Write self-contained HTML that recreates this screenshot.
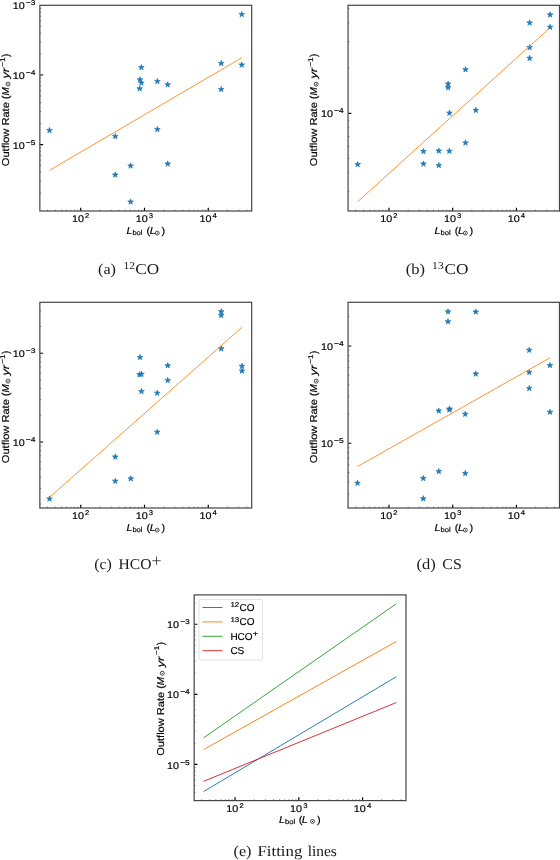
<!DOCTYPE html>
<html><head><meta charset="utf-8"><title>Outflow rate vs bolometric luminosity</title>
<style>
html,body{margin:0;padding:0;background:#fff;}
body{width:560px;height:860px;overflow:hidden;font-family:"Liberation Sans",sans-serif;}
svg{display:block;will-change:transform;}
text{text-rendering:geometricPrecision;}
</style></head><body>
<svg width="560" height="860" viewBox="0 0 560 860">
<rect x="0" y="0" width="560" height="860" fill="#ffffff"/>
<polygon points="49.50,127.40 48.84,129.44 46.69,129.44 48.43,130.70 47.77,132.74 49.50,131.48 51.23,132.74 50.57,130.70 52.31,129.44 50.16,129.44" fill="#1f77b4" stroke="#1f77b4" stroke-width="0.7" stroke-linejoin="miter"/>
<polygon points="115.25,133.40 114.59,135.44 112.44,135.44 114.18,136.70 113.52,138.74 115.25,137.48 116.98,138.74 116.32,136.70 118.06,135.44 115.91,135.44" fill="#1f77b4" stroke="#1f77b4" stroke-width="0.7" stroke-linejoin="miter"/>
<polygon points="115.25,171.90 114.59,173.94 112.44,173.94 114.18,175.20 113.52,177.24 115.25,175.98 116.98,177.24 116.32,175.20 118.06,173.94 115.91,173.94" fill="#1f77b4" stroke="#1f77b4" stroke-width="0.7" stroke-linejoin="miter"/>
<polygon points="130.60,162.90 129.94,164.94 127.79,164.94 129.53,166.20 128.87,168.24 130.60,166.98 132.33,168.24 131.67,166.20 133.41,164.94 131.26,164.94" fill="#1f77b4" stroke="#1f77b4" stroke-width="0.7" stroke-linejoin="miter"/>
<polygon points="130.60,198.90 129.94,200.94 127.79,200.94 129.53,202.20 128.87,204.24 130.60,202.98 132.33,204.24 131.67,202.20 133.41,200.94 131.26,200.94" fill="#1f77b4" stroke="#1f77b4" stroke-width="0.7" stroke-linejoin="miter"/>
<polygon points="139.70,85.70 139.04,87.74 136.89,87.74 138.63,89.00 137.97,91.04 139.70,89.78 141.43,91.04 140.77,89.00 142.51,87.74 140.36,87.74" fill="#1f77b4" stroke="#1f77b4" stroke-width="0.7" stroke-linejoin="miter"/>
<polygon points="140.00,76.70 139.34,78.74 137.19,78.74 138.93,80.00 138.27,82.04 140.00,80.78 141.73,82.04 141.07,80.00 142.81,78.74 140.66,78.74" fill="#1f77b4" stroke="#1f77b4" stroke-width="0.7" stroke-linejoin="miter"/>
<polygon points="141.40,64.50 140.74,66.54 138.59,66.54 140.33,67.80 139.67,69.84 141.40,68.58 143.13,69.84 142.47,67.80 144.21,66.54 142.06,66.54" fill="#1f77b4" stroke="#1f77b4" stroke-width="0.7" stroke-linejoin="miter"/>
<polygon points="141.40,80.00 140.74,82.04 138.59,82.04 140.33,83.30 139.67,85.34 141.40,84.08 143.13,85.34 142.47,83.30 144.21,82.04 142.06,82.04" fill="#1f77b4" stroke="#1f77b4" stroke-width="0.7" stroke-linejoin="miter"/>
<polygon points="157.40,78.40 156.74,80.44 154.59,80.44 156.33,81.70 155.67,83.74 157.40,82.48 159.13,83.74 158.47,81.70 160.21,80.44 158.06,80.44" fill="#1f77b4" stroke="#1f77b4" stroke-width="0.7" stroke-linejoin="miter"/>
<polygon points="157.40,126.40 156.74,128.44 154.59,128.44 156.33,129.70 155.67,131.74 157.40,130.48 159.13,131.74 158.47,129.70 160.21,128.44 158.06,128.44" fill="#1f77b4" stroke="#1f77b4" stroke-width="0.7" stroke-linejoin="miter"/>
<polygon points="167.70,81.70 167.04,83.74 164.89,83.74 166.63,85.00 165.97,87.04 167.70,85.78 169.43,87.04 168.77,85.00 170.51,83.74 168.36,83.74" fill="#1f77b4" stroke="#1f77b4" stroke-width="0.7" stroke-linejoin="miter"/>
<polygon points="167.70,160.90 167.04,162.94 164.89,162.94 166.63,164.20 165.97,166.24 167.70,164.98 169.43,166.24 168.77,164.20 170.51,162.94 168.36,162.94" fill="#1f77b4" stroke="#1f77b4" stroke-width="0.7" stroke-linejoin="miter"/>
<polygon points="221.25,60.40 220.59,62.44 218.44,62.44 220.18,63.70 219.52,65.74 221.25,64.48 222.98,65.74 222.32,63.70 224.06,62.44 221.91,62.44" fill="#1f77b4" stroke="#1f77b4" stroke-width="0.7" stroke-linejoin="miter"/>
<polygon points="221.25,86.40 220.59,88.44 218.44,88.44 220.18,89.70 219.52,91.74 221.25,90.48 222.98,91.74 222.32,89.70 224.06,88.44 221.91,88.44" fill="#1f77b4" stroke="#1f77b4" stroke-width="0.7" stroke-linejoin="miter"/>
<polygon points="241.75,11.40 241.09,13.44 238.94,13.44 240.68,14.70 240.02,16.74 241.75,15.48 243.48,16.74 242.82,14.70 244.56,13.44 242.41,13.44" fill="#1f77b4" stroke="#1f77b4" stroke-width="0.7" stroke-linejoin="miter"/>
<polygon points="241.75,61.90 241.09,63.94 238.94,63.94 240.68,65.20 240.02,67.24 241.75,65.98 243.48,67.24 242.82,65.20 244.56,63.94 242.41,63.94" fill="#1f77b4" stroke="#1f77b4" stroke-width="0.7" stroke-linejoin="miter"/>
<line x1="49.50" y1="170.30" x2="241.75" y2="57.80" stroke="#ff7f0e" stroke-width="0.85"/>
<path d="M47.42 211.00v-1.35M55.38 211.00v-1.35M61.56 211.00v-1.35M66.61 211.00v-1.35M70.88 211.00v-1.35M74.57 211.00v-1.35M77.83 211.00v-1.35M99.94 211.00v-1.35M111.17 211.00v-1.35M119.13 211.00v-1.35M125.31 211.00v-1.35M130.36 211.00v-1.35M134.63 211.00v-1.35M138.32 211.00v-1.35M141.58 211.00v-1.35M163.69 211.00v-1.35M174.92 211.00v-1.35M182.88 211.00v-1.35M189.06 211.00v-1.35M194.11 211.00v-1.35M198.38 211.00v-1.35M202.07 211.00v-1.35M205.33 211.00v-1.35M227.44 211.00v-1.35M238.67 211.00v-1.35M246.63 211.00v-1.35M39.85 193.25h1.35M39.85 180.99h1.35M39.85 172.30h1.35M39.85 165.55h1.35M39.85 160.04h1.35M39.85 155.38h1.35M39.85 151.34h1.35M39.85 147.78h1.35M39.85 123.65h1.35M39.85 111.39h1.35M39.85 102.70h1.35M39.85 95.95h1.35M39.85 90.44h1.35M39.85 85.78h1.35M39.85 81.74h1.35M39.85 78.18h1.35M39.85 54.05h1.35M39.85 41.79h1.35M39.85 33.10h1.35M39.85 26.35h1.35M39.85 20.84h1.35M39.85 16.18h1.35M39.85 12.14h1.35M39.85 8.58h1.35" stroke="#555" stroke-width="0.7" fill="none"/>
<path d="M80.75 211.00v-3.30M144.50 211.00v-3.30M208.25 211.00v-3.30M39.85 144.60h3.30M39.85 75.00h3.30" stroke="#000" stroke-width="1.2" fill="none"/>
<rect x="39.85" y="5.30" width="211.85" height="205.70" fill="none" stroke="#444" stroke-width="1.2"/>
<text transform="translate(72.02,222.30) scale(1.100,1)" font-family='"Liberation Sans", sans-serif' font-size="9.80" stroke="#000" stroke-width="0.18" fill="#000" text-anchor="start">10</text><text transform="translate(85.10,218.10) scale(1.100,1)" font-family='"Liberation Sans", sans-serif' font-size="7.00" stroke="#000" stroke-width="0.18" fill="#000" text-anchor="start">2</text>
<text transform="translate(135.77,222.30) scale(1.100,1)" font-family='"Liberation Sans", sans-serif' font-size="9.80" stroke="#000" stroke-width="0.18" fill="#000" text-anchor="start">10</text><text transform="translate(148.85,218.10) scale(1.100,1)" font-family='"Liberation Sans", sans-serif' font-size="7.00" stroke="#000" stroke-width="0.18" fill="#000" text-anchor="start">3</text>
<text transform="translate(199.52,222.30) scale(1.100,1)" font-family='"Liberation Sans", sans-serif' font-size="9.80" stroke="#000" stroke-width="0.18" fill="#000" text-anchor="start">10</text><text transform="translate(212.60,218.10) scale(1.100,1)" font-family='"Liberation Sans", sans-serif' font-size="7.00" stroke="#000" stroke-width="0.18" fill="#000" text-anchor="start">4</text>
<text transform="translate(12.79,9.40) scale(1.100,1)" font-family='"Liberation Sans", sans-serif' font-size="9.80" stroke="#000" stroke-width="0.18" fill="#000" text-anchor="start">10</text><text transform="translate(25.87,5.40) scale(1.200,1)" font-family='"Liberation Sans", sans-serif' font-size="7.00" stroke="#000" stroke-width="0.18" fill="#000" text-anchor="start">−3</text>
<text transform="translate(12.79,79.00) scale(1.100,1)" font-family='"Liberation Sans", sans-serif' font-size="9.80" stroke="#000" stroke-width="0.18" fill="#000" text-anchor="start">10</text><text transform="translate(25.87,75.00) scale(1.200,1)" font-family='"Liberation Sans", sans-serif' font-size="7.00" stroke="#000" stroke-width="0.18" fill="#000" text-anchor="start">−4</text>
<text transform="translate(12.79,148.60) scale(1.100,1)" font-family='"Liberation Sans", sans-serif' font-size="9.80" stroke="#000" stroke-width="0.18" fill="#000" text-anchor="start">10</text><text transform="translate(25.87,144.60) scale(1.200,1)" font-family='"Liberation Sans", sans-serif' font-size="7.00" stroke="#000" stroke-width="0.18" fill="#000" text-anchor="start">−5</text>
<text transform="translate(126.40,233.60) scale(1.080,1)" font-family='"Liberation Sans", sans-serif' font-size="10.00" font-style="italic" stroke="#000" stroke-width="0.18" fill="#000" text-anchor="start">L</text><text transform="translate(132.40,234.90) scale(1.080,1)" font-family='"Liberation Sans", sans-serif' font-size="7.00" stroke="#000" stroke-width="0.18" fill="#000" text-anchor="start">bol</text><text transform="translate(146.60,233.60) scale(1.100,1)" font-family='"Liberation Sans", sans-serif' font-size="10.00" stroke="#000" stroke-width="0.18" fill="#000" text-anchor="start">(</text><text transform="translate(149.70,233.60) scale(1.080,1)" font-family='"Liberation Sans", sans-serif' font-size="10.00" font-style="italic" stroke="#000" stroke-width="0.18" fill="#000" text-anchor="start">L</text><circle cx="157.20" cy="233.10" r="1.95" fill="none" stroke="#000" stroke-width="0.7"/><circle cx="157.20" cy="233.10" r="0.6" fill="#000"/><text transform="translate(161.40,233.60) scale(1.100,1)" font-family='"Liberation Sans", sans-serif' font-size="10.00" stroke="#000" stroke-width="0.18" fill="#000" text-anchor="start">)</text>
<text transform="translate(9.20,166.15) rotate(-90) scale(1.106,1)" font-family='"Liberation Sans", sans-serif' font-size="10.00" stroke="#000" stroke-width="0.18" fill="#000" text-anchor="start">Outflow Rate (</text><text transform="translate(9.20,95.55) rotate(-90)" font-family='"Liberation Sans", sans-serif' font-size="10.00" font-style="italic" stroke="#000" stroke-width="0.18" fill="#000" text-anchor="start">M</text><circle cx="8.00" cy="84.15" r="2.00" fill="none" stroke="#000" stroke-width="0.7"/><circle cx="8.00" cy="84.15" r="0.6" fill="#000"/><text transform="translate(9.20,78.55) rotate(-90) scale(1.260,1)" font-family='"Liberation Sans", sans-serif' font-size="10.00" font-style="italic" stroke="#000" stroke-width="0.18" fill="#000" text-anchor="start">yr</text><text transform="translate(4.90,66.85) rotate(-90) scale(1.200,1)" font-family='"Liberation Sans", sans-serif' font-size="7.00" stroke="#000" stroke-width="0.18" fill="#000" text-anchor="start">−1</text><text transform="translate(9.20,57.05) rotate(-90)" font-family='"Liberation Sans", sans-serif' font-size="10.00" stroke="#000" stroke-width="0.18" fill="#000" text-anchor="start">)</text>
<polygon points="550.10,11.80 549.44,13.84 547.29,13.84 549.03,15.10 548.37,17.14 550.10,15.88 551.83,17.14 551.17,15.10 552.91,13.84 550.76,13.84" fill="#1f77b4" stroke="#1f77b4" stroke-width="0.7" stroke-linejoin="miter"/>
<polygon points="550.10,24.20 549.44,26.24 547.29,26.24 549.03,27.50 548.37,29.54 550.10,28.28 551.83,29.54 551.17,27.50 552.91,26.24 550.76,26.24" fill="#1f77b4" stroke="#1f77b4" stroke-width="0.7" stroke-linejoin="miter"/>
<polygon points="529.60,19.90 528.94,21.94 526.79,21.94 528.53,23.20 527.87,25.24 529.60,23.98 531.33,25.24 530.67,23.20 532.41,21.94 530.26,21.94" fill="#1f77b4" stroke="#1f77b4" stroke-width="0.7" stroke-linejoin="miter"/>
<polygon points="529.60,44.50 528.94,46.54 526.79,46.54 528.53,47.80 527.87,49.84 529.60,48.58 531.33,49.84 530.67,47.80 532.41,46.54 530.26,46.54" fill="#1f77b4" stroke="#1f77b4" stroke-width="0.7" stroke-linejoin="miter"/>
<polygon points="529.60,55.30 528.94,57.34 526.79,57.34 528.53,58.60 527.87,60.64 529.60,59.38 531.33,60.64 530.67,58.60 532.41,57.34 530.26,57.34" fill="#1f77b4" stroke="#1f77b4" stroke-width="0.7" stroke-linejoin="miter"/>
<polygon points="465.50,66.60 464.84,68.64 462.69,68.64 464.43,69.90 463.77,71.94 465.50,70.68 467.23,71.94 466.57,69.90 468.31,68.64 466.16,68.64" fill="#1f77b4" stroke="#1f77b4" stroke-width="0.7" stroke-linejoin="miter"/>
<polygon points="448.10,81.00 447.44,83.04 445.29,83.04 447.03,84.30 446.37,86.34 448.10,85.08 449.83,86.34 449.17,84.30 450.91,83.04 448.76,83.04" fill="#1f77b4" stroke="#1f77b4" stroke-width="0.7" stroke-linejoin="miter"/>
<polygon points="448.10,84.60 447.44,86.64 445.29,86.64 447.03,87.90 446.37,89.94 448.10,88.68 449.83,89.94 449.17,87.90 450.91,86.64 448.76,86.64" fill="#1f77b4" stroke="#1f77b4" stroke-width="0.7" stroke-linejoin="miter"/>
<polygon points="475.80,107.30 475.14,109.34 472.99,109.34 474.73,110.60 474.07,112.64 475.80,111.38 477.53,112.64 476.87,110.60 478.61,109.34 476.46,109.34" fill="#1f77b4" stroke="#1f77b4" stroke-width="0.7" stroke-linejoin="miter"/>
<polygon points="449.40,110.10 448.74,112.14 446.59,112.14 448.33,113.40 447.67,115.44 449.40,114.18 451.13,115.44 450.47,113.40 452.21,112.14 450.06,112.14" fill="#1f77b4" stroke="#1f77b4" stroke-width="0.7" stroke-linejoin="miter"/>
<polygon points="357.70,161.50 357.04,163.54 354.89,163.54 356.63,164.80 355.97,166.84 357.70,165.58 359.43,166.84 358.77,164.80 360.51,163.54 358.36,163.54" fill="#1f77b4" stroke="#1f77b4" stroke-width="0.7" stroke-linejoin="miter"/>
<polygon points="423.45,148.40 422.79,150.44 420.64,150.44 422.38,151.70 421.72,153.74 423.45,152.48 425.18,153.74 424.52,151.70 426.26,150.44 424.11,150.44" fill="#1f77b4" stroke="#1f77b4" stroke-width="0.7" stroke-linejoin="miter"/>
<polygon points="423.45,160.90 422.79,162.94 420.64,162.94 422.38,164.20 421.72,166.24 423.45,164.98 425.18,166.24 424.52,164.20 426.26,162.94 424.11,162.94" fill="#1f77b4" stroke="#1f77b4" stroke-width="0.7" stroke-linejoin="miter"/>
<polygon points="438.80,147.90 438.14,149.94 435.99,149.94 437.73,151.20 437.07,153.24 438.80,151.98 440.53,153.24 439.87,151.20 441.61,149.94 439.46,149.94" fill="#1f77b4" stroke="#1f77b4" stroke-width="0.7" stroke-linejoin="miter"/>
<polygon points="438.80,162.40 438.14,164.44 435.99,164.44 437.73,165.70 437.07,167.74 438.80,166.48 440.53,167.74 439.87,165.70 441.61,164.44 439.46,164.44" fill="#1f77b4" stroke="#1f77b4" stroke-width="0.7" stroke-linejoin="miter"/>
<polygon points="449.40,148.20 448.74,150.24 446.59,150.24 448.33,151.50 447.67,153.54 449.40,152.28 451.13,153.54 450.47,151.50 452.21,150.24 450.06,150.24" fill="#1f77b4" stroke="#1f77b4" stroke-width="0.7" stroke-linejoin="miter"/>
<polygon points="465.50,139.90 464.84,141.94 462.69,141.94 464.43,143.20 463.77,145.24 465.50,143.98 467.23,145.24 466.57,143.20 468.31,141.94 466.16,141.94" fill="#1f77b4" stroke="#1f77b4" stroke-width="0.7" stroke-linejoin="miter"/>
<line x1="357.70" y1="201.70" x2="550.10" y2="27.70" stroke="#ff7f0e" stroke-width="0.85"/>
<path d="M355.62 211.00v-1.35M363.58 211.00v-1.35M369.76 211.00v-1.35M374.81 211.00v-1.35M379.08 211.00v-1.35M382.77 211.00v-1.35M386.03 211.00v-1.35M408.14 211.00v-1.35M419.37 211.00v-1.35M427.33 211.00v-1.35M433.51 211.00v-1.35M438.56 211.00v-1.35M442.83 211.00v-1.35M446.52 211.00v-1.35M449.78 211.00v-1.35M471.89 211.00v-1.35M483.12 211.00v-1.35M491.08 211.00v-1.35M497.26 211.00v-1.35M502.31 211.00v-1.35M506.58 211.00v-1.35M510.27 211.00v-1.35M513.53 211.00v-1.35M535.64 211.00v-1.35M546.87 211.00v-1.35M554.83 211.00v-1.35M348.05 191.73h1.35M348.05 172.99h1.35M348.05 158.45h1.35M348.05 146.58h1.35M348.05 136.54h1.35M348.05 127.84h1.35M348.05 120.16h1.35M348.05 68.15h1.35M348.05 41.73h1.35M348.05 22.99h1.35M348.05 8.45h1.35" stroke="#555" stroke-width="0.7" fill="none"/>
<path d="M388.95 211.00v-3.30M452.70 211.00v-3.30M516.45 211.00v-3.30M348.05 113.30h3.30" stroke="#000" stroke-width="1.2" fill="none"/>
<rect x="348.05" y="5.30" width="211.45" height="205.70" fill="none" stroke="#444" stroke-width="1.2"/>
<text transform="translate(380.22,222.30) scale(1.100,1)" font-family='"Liberation Sans", sans-serif' font-size="9.80" stroke="#000" stroke-width="0.18" fill="#000" text-anchor="start">10</text><text transform="translate(393.30,218.10) scale(1.100,1)" font-family='"Liberation Sans", sans-serif' font-size="7.00" stroke="#000" stroke-width="0.18" fill="#000" text-anchor="start">2</text>
<text transform="translate(443.97,222.30) scale(1.100,1)" font-family='"Liberation Sans", sans-serif' font-size="9.80" stroke="#000" stroke-width="0.18" fill="#000" text-anchor="start">10</text><text transform="translate(457.05,218.10) scale(1.100,1)" font-family='"Liberation Sans", sans-serif' font-size="7.00" stroke="#000" stroke-width="0.18" fill="#000" text-anchor="start">3</text>
<text transform="translate(507.72,222.30) scale(1.100,1)" font-family='"Liberation Sans", sans-serif' font-size="9.80" stroke="#000" stroke-width="0.18" fill="#000" text-anchor="start">10</text><text transform="translate(520.80,218.10) scale(1.100,1)" font-family='"Liberation Sans", sans-serif' font-size="7.00" stroke="#000" stroke-width="0.18" fill="#000" text-anchor="start">4</text>
<text transform="translate(320.99,117.30) scale(1.100,1)" font-family='"Liberation Sans", sans-serif' font-size="9.80" stroke="#000" stroke-width="0.18" fill="#000" text-anchor="start">10</text><text transform="translate(334.07,113.30) scale(1.200,1)" font-family='"Liberation Sans", sans-serif' font-size="7.00" stroke="#000" stroke-width="0.18" fill="#000" text-anchor="start">−4</text>
<text transform="translate(434.60,233.60) scale(1.080,1)" font-family='"Liberation Sans", sans-serif' font-size="10.00" font-style="italic" stroke="#000" stroke-width="0.18" fill="#000" text-anchor="start">L</text><text transform="translate(440.60,234.90) scale(1.080,1)" font-family='"Liberation Sans", sans-serif' font-size="7.00" stroke="#000" stroke-width="0.18" fill="#000" text-anchor="start">bol</text><text transform="translate(454.80,233.60) scale(1.100,1)" font-family='"Liberation Sans", sans-serif' font-size="10.00" stroke="#000" stroke-width="0.18" fill="#000" text-anchor="start">(</text><text transform="translate(457.90,233.60) scale(1.080,1)" font-family='"Liberation Sans", sans-serif' font-size="10.00" font-style="italic" stroke="#000" stroke-width="0.18" fill="#000" text-anchor="start">L</text><circle cx="465.40" cy="233.10" r="1.95" fill="none" stroke="#000" stroke-width="0.7"/><circle cx="465.40" cy="233.10" r="0.6" fill="#000"/><text transform="translate(469.60,233.60) scale(1.100,1)" font-family='"Liberation Sans", sans-serif' font-size="10.00" stroke="#000" stroke-width="0.18" fill="#000" text-anchor="start">)</text>
<text transform="translate(317.40,166.15) rotate(-90) scale(1.106,1)" font-family='"Liberation Sans", sans-serif' font-size="10.00" stroke="#000" stroke-width="0.18" fill="#000" text-anchor="start">Outflow Rate (</text><text transform="translate(317.40,95.55) rotate(-90)" font-family='"Liberation Sans", sans-serif' font-size="10.00" font-style="italic" stroke="#000" stroke-width="0.18" fill="#000" text-anchor="start">M</text><circle cx="316.20" cy="84.15" r="2.00" fill="none" stroke="#000" stroke-width="0.7"/><circle cx="316.20" cy="84.15" r="0.6" fill="#000"/><text transform="translate(317.40,78.55) rotate(-90) scale(1.260,1)" font-family='"Liberation Sans", sans-serif' font-size="10.00" font-style="italic" stroke="#000" stroke-width="0.18" fill="#000" text-anchor="start">yr</text><text transform="translate(313.10,66.85) rotate(-90) scale(1.200,1)" font-family='"Liberation Sans", sans-serif' font-size="7.00" stroke="#000" stroke-width="0.18" fill="#000" text-anchor="start">−1</text><text transform="translate(317.40,57.05) rotate(-90)" font-family='"Liberation Sans", sans-serif' font-size="10.00" stroke="#000" stroke-width="0.18" fill="#000" text-anchor="start">)</text>
<polygon points="221.25,308.65 220.59,310.69 218.44,310.69 220.18,311.95 219.52,313.99 221.25,312.73 222.98,313.99 222.32,311.95 224.06,310.69 221.91,310.69" fill="#1f77b4" stroke="#1f77b4" stroke-width="0.7" stroke-linejoin="miter"/>
<polygon points="221.25,312.40 220.59,314.44 218.44,314.44 220.18,315.70 219.52,317.74 221.25,316.48 222.98,317.74 222.32,315.70 224.06,314.44 221.91,314.44" fill="#1f77b4" stroke="#1f77b4" stroke-width="0.7" stroke-linejoin="miter"/>
<polygon points="221.25,345.65 220.59,347.69 218.44,347.69 220.18,348.95 219.52,350.99 221.25,349.73 222.98,350.99 222.32,348.95 224.06,347.69 221.91,347.69" fill="#1f77b4" stroke="#1f77b4" stroke-width="0.7" stroke-linejoin="miter"/>
<polygon points="242.00,363.15 241.34,365.19 239.19,365.19 240.93,366.45 240.27,368.49 242.00,367.23 243.73,368.49 243.07,366.45 244.81,365.19 242.66,365.19" fill="#1f77b4" stroke="#1f77b4" stroke-width="0.7" stroke-linejoin="miter"/>
<polygon points="242.00,367.90 241.34,369.94 239.19,369.94 240.93,371.20 240.27,373.24 242.00,371.98 243.73,373.24 243.07,371.20 244.81,369.94 242.66,369.94" fill="#1f77b4" stroke="#1f77b4" stroke-width="0.7" stroke-linejoin="miter"/>
<polygon points="140.00,354.40 139.34,356.44 137.19,356.44 138.93,357.70 138.27,359.74 140.00,358.48 141.73,359.74 141.07,357.70 142.81,356.44 140.66,356.44" fill="#1f77b4" stroke="#1f77b4" stroke-width="0.7" stroke-linejoin="miter"/>
<polygon points="139.50,371.65 138.84,373.69 136.69,373.69 138.43,374.95 137.77,376.99 139.50,375.73 141.23,376.99 140.57,374.95 142.31,373.69 140.16,373.69" fill="#1f77b4" stroke="#1f77b4" stroke-width="0.7" stroke-linejoin="miter"/>
<polygon points="141.50,371.15 140.84,373.19 138.69,373.19 140.43,374.45 139.77,376.49 141.50,375.23 143.23,376.49 142.57,374.45 144.31,373.19 142.16,373.19" fill="#1f77b4" stroke="#1f77b4" stroke-width="0.7" stroke-linejoin="miter"/>
<polygon points="167.75,362.65 167.09,364.69 164.94,364.69 166.68,365.95 166.02,367.99 167.75,366.73 169.48,367.99 168.82,365.95 170.56,364.69 168.41,364.69" fill="#1f77b4" stroke="#1f77b4" stroke-width="0.7" stroke-linejoin="miter"/>
<polygon points="167.75,377.40 167.09,379.44 164.94,379.44 166.68,380.70 166.02,382.74 167.75,381.48 169.48,382.74 168.82,380.70 170.56,379.44 168.41,379.44" fill="#1f77b4" stroke="#1f77b4" stroke-width="0.7" stroke-linejoin="miter"/>
<polygon points="141.50,388.40 140.84,390.44 138.69,390.44 140.43,391.70 139.77,393.74 141.50,392.48 143.23,393.74 142.57,391.70 144.31,390.44 142.16,390.44" fill="#1f77b4" stroke="#1f77b4" stroke-width="0.7" stroke-linejoin="miter"/>
<polygon points="157.25,390.15 156.59,392.19 154.44,392.19 156.18,393.45 155.52,395.49 157.25,394.23 158.98,395.49 158.32,393.45 160.06,392.19 157.91,392.19" fill="#1f77b4" stroke="#1f77b4" stroke-width="0.7" stroke-linejoin="miter"/>
<polygon points="157.25,429.15 156.59,431.19 154.44,431.19 156.18,432.45 155.52,434.49 157.25,433.23 158.98,434.49 158.32,432.45 160.06,431.19 157.91,431.19" fill="#1f77b4" stroke="#1f77b4" stroke-width="0.7" stroke-linejoin="miter"/>
<polygon points="49.50,495.90 48.84,497.94 46.69,497.94 48.43,499.20 47.77,501.24 49.50,499.98 51.23,501.24 50.57,499.20 52.31,497.94 50.16,497.94" fill="#1f77b4" stroke="#1f77b4" stroke-width="0.7" stroke-linejoin="miter"/>
<polygon points="115.25,453.90 114.59,455.94 112.44,455.94 114.18,457.20 113.52,459.24 115.25,457.98 116.98,459.24 116.32,457.20 118.06,455.94 115.91,455.94" fill="#1f77b4" stroke="#1f77b4" stroke-width="0.7" stroke-linejoin="miter"/>
<polygon points="115.25,478.15 114.59,480.19 112.44,480.19 114.18,481.45 113.52,483.49 115.25,482.23 116.98,483.49 116.32,481.45 118.06,480.19 115.91,480.19" fill="#1f77b4" stroke="#1f77b4" stroke-width="0.7" stroke-linejoin="miter"/>
<polygon points="130.75,475.65 130.09,477.69 127.94,477.69 129.68,478.95 129.02,480.99 130.75,479.73 132.48,480.99 131.82,478.95 133.56,477.69 131.41,477.69" fill="#1f77b4" stroke="#1f77b4" stroke-width="0.7" stroke-linejoin="miter"/>
<line x1="49.50" y1="497.30" x2="242.00" y2="327.30" stroke="#ff7f0e" stroke-width="0.85"/>
<path d="M47.42 508.00v-1.35M55.38 508.00v-1.35M61.56 508.00v-1.35M66.61 508.00v-1.35M70.88 508.00v-1.35M74.57 508.00v-1.35M77.83 508.00v-1.35M99.94 508.00v-1.35M111.17 508.00v-1.35M119.13 508.00v-1.35M125.31 508.00v-1.35M130.36 508.00v-1.35M134.63 508.00v-1.35M138.32 508.00v-1.35M141.58 508.00v-1.35M163.69 508.00v-1.35M174.92 508.00v-1.35M182.88 508.00v-1.35M189.06 508.00v-1.35M194.11 508.00v-1.35M198.38 508.00v-1.35M202.07 508.00v-1.35M205.33 508.00v-1.35M227.44 508.00v-1.35M238.67 508.00v-1.35M246.63 508.00v-1.35M39.85 504.03h1.35M39.85 488.41h1.35M39.85 477.32h1.35M39.85 468.72h1.35M39.85 461.69h1.35M39.85 455.75h1.35M39.85 450.60h1.35M39.85 446.06h1.35M39.85 415.28h1.35M39.85 399.66h1.35M39.85 388.57h1.35M39.85 379.97h1.35M39.85 372.94h1.35M39.85 367.00h1.35M39.85 361.85h1.35M39.85 357.31h1.35M39.85 326.53h1.35M39.85 310.91h1.35" stroke="#555" stroke-width="0.7" fill="none"/>
<path d="M80.75 508.00v-3.30M144.50 508.00v-3.30M208.25 508.00v-3.30M39.85 442.00h3.30M39.85 353.25h3.30" stroke="#000" stroke-width="1.2" fill="none"/>
<rect x="39.85" y="302.30" width="211.85" height="205.70" fill="none" stroke="#444" stroke-width="1.2"/>
<text transform="translate(72.02,519.30) scale(1.100,1)" font-family='"Liberation Sans", sans-serif' font-size="9.80" stroke="#000" stroke-width="0.18" fill="#000" text-anchor="start">10</text><text transform="translate(85.10,515.10) scale(1.100,1)" font-family='"Liberation Sans", sans-serif' font-size="7.00" stroke="#000" stroke-width="0.18" fill="#000" text-anchor="start">2</text>
<text transform="translate(135.77,519.30) scale(1.100,1)" font-family='"Liberation Sans", sans-serif' font-size="9.80" stroke="#000" stroke-width="0.18" fill="#000" text-anchor="start">10</text><text transform="translate(148.85,515.10) scale(1.100,1)" font-family='"Liberation Sans", sans-serif' font-size="7.00" stroke="#000" stroke-width="0.18" fill="#000" text-anchor="start">3</text>
<text transform="translate(199.52,519.30) scale(1.100,1)" font-family='"Liberation Sans", sans-serif' font-size="9.80" stroke="#000" stroke-width="0.18" fill="#000" text-anchor="start">10</text><text transform="translate(212.60,515.10) scale(1.100,1)" font-family='"Liberation Sans", sans-serif' font-size="7.00" stroke="#000" stroke-width="0.18" fill="#000" text-anchor="start">4</text>
<text transform="translate(12.79,357.25) scale(1.100,1)" font-family='"Liberation Sans", sans-serif' font-size="9.80" stroke="#000" stroke-width="0.18" fill="#000" text-anchor="start">10</text><text transform="translate(25.87,353.25) scale(1.200,1)" font-family='"Liberation Sans", sans-serif' font-size="7.00" stroke="#000" stroke-width="0.18" fill="#000" text-anchor="start">−3</text>
<text transform="translate(12.79,446.00) scale(1.100,1)" font-family='"Liberation Sans", sans-serif' font-size="9.80" stroke="#000" stroke-width="0.18" fill="#000" text-anchor="start">10</text><text transform="translate(25.87,442.00) scale(1.200,1)" font-family='"Liberation Sans", sans-serif' font-size="7.00" stroke="#000" stroke-width="0.18" fill="#000" text-anchor="start">−4</text>
<text transform="translate(126.40,530.60) scale(1.080,1)" font-family='"Liberation Sans", sans-serif' font-size="10.00" font-style="italic" stroke="#000" stroke-width="0.18" fill="#000" text-anchor="start">L</text><text transform="translate(132.40,531.90) scale(1.080,1)" font-family='"Liberation Sans", sans-serif' font-size="7.00" stroke="#000" stroke-width="0.18" fill="#000" text-anchor="start">bol</text><text transform="translate(146.60,530.60) scale(1.100,1)" font-family='"Liberation Sans", sans-serif' font-size="10.00" stroke="#000" stroke-width="0.18" fill="#000" text-anchor="start">(</text><text transform="translate(149.70,530.60) scale(1.080,1)" font-family='"Liberation Sans", sans-serif' font-size="10.00" font-style="italic" stroke="#000" stroke-width="0.18" fill="#000" text-anchor="start">L</text><circle cx="157.20" cy="530.10" r="1.95" fill="none" stroke="#000" stroke-width="0.7"/><circle cx="157.20" cy="530.10" r="0.6" fill="#000"/><text transform="translate(161.40,530.60) scale(1.100,1)" font-family='"Liberation Sans", sans-serif' font-size="10.00" stroke="#000" stroke-width="0.18" fill="#000" text-anchor="start">)</text>
<text transform="translate(9.20,463.15) rotate(-90) scale(1.106,1)" font-family='"Liberation Sans", sans-serif' font-size="10.00" stroke="#000" stroke-width="0.18" fill="#000" text-anchor="start">Outflow Rate (</text><text transform="translate(9.20,392.55) rotate(-90)" font-family='"Liberation Sans", sans-serif' font-size="10.00" font-style="italic" stroke="#000" stroke-width="0.18" fill="#000" text-anchor="start">M</text><circle cx="8.00" cy="381.15" r="2.00" fill="none" stroke="#000" stroke-width="0.7"/><circle cx="8.00" cy="381.15" r="0.6" fill="#000"/><text transform="translate(9.20,375.55) rotate(-90) scale(1.260,1)" font-family='"Liberation Sans", sans-serif' font-size="10.00" font-style="italic" stroke="#000" stroke-width="0.18" fill="#000" text-anchor="start">yr</text><text transform="translate(4.90,363.85) rotate(-90) scale(1.200,1)" font-family='"Liberation Sans", sans-serif' font-size="7.00" stroke="#000" stroke-width="0.18" fill="#000" text-anchor="start">−1</text><text transform="translate(9.20,354.05) rotate(-90)" font-family='"Liberation Sans", sans-serif' font-size="10.00" stroke="#000" stroke-width="0.18" fill="#000" text-anchor="start">)</text>
<polygon points="448.00,308.65 447.34,310.69 445.19,310.69 446.93,311.95 446.27,313.99 448.00,312.73 449.73,313.99 449.07,311.95 450.81,310.69 448.66,310.69" fill="#1f77b4" stroke="#1f77b4" stroke-width="0.7" stroke-linejoin="miter"/>
<polygon points="448.00,318.65 447.34,320.69 445.19,320.69 446.93,321.95 446.27,323.99 448.00,322.73 449.73,323.99 449.07,321.95 450.81,320.69 448.66,320.69" fill="#1f77b4" stroke="#1f77b4" stroke-width="0.7" stroke-linejoin="miter"/>
<polygon points="475.75,308.90 475.09,310.94 472.94,310.94 474.68,312.20 474.02,314.24 475.75,312.98 477.48,314.24 476.82,312.20 478.56,310.94 476.41,310.94" fill="#1f77b4" stroke="#1f77b4" stroke-width="0.7" stroke-linejoin="miter"/>
<polygon points="475.75,370.90 475.09,372.94 472.94,372.94 474.68,374.20 474.02,376.24 475.75,374.98 477.48,376.24 476.82,374.20 478.56,372.94 476.41,372.94" fill="#1f77b4" stroke="#1f77b4" stroke-width="0.7" stroke-linejoin="miter"/>
<polygon points="529.25,347.15 528.59,349.19 526.44,349.19 528.18,350.45 527.52,352.49 529.25,351.23 530.98,352.49 530.32,350.45 532.06,349.19 529.91,349.19" fill="#1f77b4" stroke="#1f77b4" stroke-width="0.7" stroke-linejoin="miter"/>
<polygon points="529.25,369.40 528.59,371.44 526.44,371.44 528.18,372.70 527.52,374.74 529.25,373.48 530.98,374.74 530.32,372.70 532.06,371.44 529.91,371.44" fill="#1f77b4" stroke="#1f77b4" stroke-width="0.7" stroke-linejoin="miter"/>
<polygon points="529.25,385.40 528.59,387.44 526.44,387.44 528.18,388.70 527.52,390.74 529.25,389.48 530.98,390.74 530.32,388.70 532.06,387.44 529.91,387.44" fill="#1f77b4" stroke="#1f77b4" stroke-width="0.7" stroke-linejoin="miter"/>
<polygon points="550.00,362.40 549.34,364.44 547.19,364.44 548.93,365.70 548.27,367.74 550.00,366.48 551.73,367.74 551.07,365.70 552.81,364.44 550.66,364.44" fill="#1f77b4" stroke="#1f77b4" stroke-width="0.7" stroke-linejoin="miter"/>
<polygon points="550.00,409.15 549.34,411.19 547.19,411.19 548.93,412.45 548.27,414.49 550.00,413.23 551.73,414.49 551.07,412.45 552.81,411.19 550.66,411.19" fill="#1f77b4" stroke="#1f77b4" stroke-width="0.7" stroke-linejoin="miter"/>
<polygon points="438.75,407.90 438.09,409.94 435.94,409.94 437.68,411.20 437.02,413.24 438.75,411.98 440.48,413.24 439.82,411.20 441.56,409.94 439.41,409.94" fill="#1f77b4" stroke="#1f77b4" stroke-width="0.7" stroke-linejoin="miter"/>
<polygon points="449.50,405.90 448.84,407.94 446.69,407.94 448.43,409.20 447.77,411.24 449.50,409.98 451.23,411.24 450.57,409.20 452.31,407.94 450.16,407.94" fill="#1f77b4" stroke="#1f77b4" stroke-width="0.7" stroke-linejoin="miter"/>
<polygon points="449.50,406.90 448.84,408.94 446.69,408.94 448.43,410.20 447.77,412.24 449.50,410.98 451.23,412.24 450.57,410.20 452.31,408.94 450.16,408.94" fill="#1f77b4" stroke="#1f77b4" stroke-width="0.7" stroke-linejoin="miter"/>
<polygon points="465.25,411.15 464.59,413.19 462.44,413.19 464.18,414.45 463.52,416.49 465.25,415.23 466.98,416.49 466.32,414.45 468.06,413.19 465.91,413.19" fill="#1f77b4" stroke="#1f77b4" stroke-width="0.7" stroke-linejoin="miter"/>
<polygon points="357.50,480.15 356.84,482.19 354.69,482.19 356.43,483.45 355.77,485.49 357.50,484.23 359.23,485.49 358.57,483.45 360.31,482.19 358.16,482.19" fill="#1f77b4" stroke="#1f77b4" stroke-width="0.7" stroke-linejoin="miter"/>
<polygon points="423.25,475.40 422.59,477.44 420.44,477.44 422.18,478.70 421.52,480.74 423.25,479.48 424.98,480.74 424.32,478.70 426.06,477.44 423.91,477.44" fill="#1f77b4" stroke="#1f77b4" stroke-width="0.7" stroke-linejoin="miter"/>
<polygon points="423.25,495.65 422.59,497.69 420.44,497.69 422.18,498.95 421.52,500.99 423.25,499.73 424.98,500.99 424.32,498.95 426.06,497.69 423.91,497.69" fill="#1f77b4" stroke="#1f77b4" stroke-width="0.7" stroke-linejoin="miter"/>
<polygon points="438.75,468.40 438.09,470.44 435.94,470.44 437.68,471.70 437.02,473.74 438.75,472.48 440.48,473.74 439.82,471.70 441.56,470.44 439.41,470.44" fill="#1f77b4" stroke="#1f77b4" stroke-width="0.7" stroke-linejoin="miter"/>
<polygon points="465.25,470.40 464.59,472.44 462.44,472.44 464.18,473.70 463.52,475.74 465.25,474.48 466.98,475.74 466.32,473.70 468.06,472.44 465.91,472.44" fill="#1f77b4" stroke="#1f77b4" stroke-width="0.7" stroke-linejoin="miter"/>
<line x1="357.50" y1="466.55" x2="550.00" y2="357.80" stroke="#ff7f0e" stroke-width="0.85"/>
<path d="M355.62 508.00v-1.35M363.58 508.00v-1.35M369.76 508.00v-1.35M374.81 508.00v-1.35M379.08 508.00v-1.35M382.77 508.00v-1.35M386.03 508.00v-1.35M408.14 508.00v-1.35M419.37 508.00v-1.35M427.33 508.00v-1.35M433.51 508.00v-1.35M438.56 508.00v-1.35M442.83 508.00v-1.35M446.52 508.00v-1.35M449.78 508.00v-1.35M471.89 508.00v-1.35M483.12 508.00v-1.35M491.08 508.00v-1.35M497.26 508.00v-1.35M502.31 508.00v-1.35M506.58 508.00v-1.35M510.27 508.00v-1.35M513.53 508.00v-1.35M535.64 508.00v-1.35M546.87 508.00v-1.35M554.83 508.00v-1.35M348.05 494.10h1.35M348.05 481.95h1.35M348.05 472.53h1.35M348.05 464.82h1.35M348.05 458.31h1.35M348.05 452.67h1.35M348.05 447.70h1.35M348.05 413.97h1.35M348.05 396.85h1.35M348.05 384.70h1.35M348.05 375.28h1.35M348.05 367.57h1.35M348.05 361.06h1.35M348.05 355.42h1.35M348.05 350.45h1.35M348.05 316.72h1.35" stroke="#555" stroke-width="0.7" fill="none"/>
<path d="M388.95 508.00v-3.30M452.70 508.00v-3.30M516.45 508.00v-3.30M348.05 443.25h3.30M348.05 346.00h3.30" stroke="#000" stroke-width="1.2" fill="none"/>
<rect x="348.05" y="302.30" width="211.45" height="205.70" fill="none" stroke="#444" stroke-width="1.2"/>
<text transform="translate(380.22,519.30) scale(1.100,1)" font-family='"Liberation Sans", sans-serif' font-size="9.80" stroke="#000" stroke-width="0.18" fill="#000" text-anchor="start">10</text><text transform="translate(393.30,515.10) scale(1.100,1)" font-family='"Liberation Sans", sans-serif' font-size="7.00" stroke="#000" stroke-width="0.18" fill="#000" text-anchor="start">2</text>
<text transform="translate(443.97,519.30) scale(1.100,1)" font-family='"Liberation Sans", sans-serif' font-size="9.80" stroke="#000" stroke-width="0.18" fill="#000" text-anchor="start">10</text><text transform="translate(457.05,515.10) scale(1.100,1)" font-family='"Liberation Sans", sans-serif' font-size="7.00" stroke="#000" stroke-width="0.18" fill="#000" text-anchor="start">3</text>
<text transform="translate(507.72,519.30) scale(1.100,1)" font-family='"Liberation Sans", sans-serif' font-size="9.80" stroke="#000" stroke-width="0.18" fill="#000" text-anchor="start">10</text><text transform="translate(520.80,515.10) scale(1.100,1)" font-family='"Liberation Sans", sans-serif' font-size="7.00" stroke="#000" stroke-width="0.18" fill="#000" text-anchor="start">4</text>
<text transform="translate(320.99,350.00) scale(1.100,1)" font-family='"Liberation Sans", sans-serif' font-size="9.80" stroke="#000" stroke-width="0.18" fill="#000" text-anchor="start">10</text><text transform="translate(334.07,346.00) scale(1.200,1)" font-family='"Liberation Sans", sans-serif' font-size="7.00" stroke="#000" stroke-width="0.18" fill="#000" text-anchor="start">−4</text>
<text transform="translate(320.99,447.25) scale(1.100,1)" font-family='"Liberation Sans", sans-serif' font-size="9.80" stroke="#000" stroke-width="0.18" fill="#000" text-anchor="start">10</text><text transform="translate(334.07,443.25) scale(1.200,1)" font-family='"Liberation Sans", sans-serif' font-size="7.00" stroke="#000" stroke-width="0.18" fill="#000" text-anchor="start">−5</text>
<text transform="translate(434.60,530.60) scale(1.080,1)" font-family='"Liberation Sans", sans-serif' font-size="10.00" font-style="italic" stroke="#000" stroke-width="0.18" fill="#000" text-anchor="start">L</text><text transform="translate(440.60,531.90) scale(1.080,1)" font-family='"Liberation Sans", sans-serif' font-size="7.00" stroke="#000" stroke-width="0.18" fill="#000" text-anchor="start">bol</text><text transform="translate(454.80,530.60) scale(1.100,1)" font-family='"Liberation Sans", sans-serif' font-size="10.00" stroke="#000" stroke-width="0.18" fill="#000" text-anchor="start">(</text><text transform="translate(457.90,530.60) scale(1.080,1)" font-family='"Liberation Sans", sans-serif' font-size="10.00" font-style="italic" stroke="#000" stroke-width="0.18" fill="#000" text-anchor="start">L</text><circle cx="465.40" cy="530.10" r="1.95" fill="none" stroke="#000" stroke-width="0.7"/><circle cx="465.40" cy="530.10" r="0.6" fill="#000"/><text transform="translate(469.60,530.60) scale(1.100,1)" font-family='"Liberation Sans", sans-serif' font-size="10.00" stroke="#000" stroke-width="0.18" fill="#000" text-anchor="start">)</text>
<text transform="translate(317.40,463.15) rotate(-90) scale(1.106,1)" font-family='"Liberation Sans", sans-serif' font-size="10.00" stroke="#000" stroke-width="0.18" fill="#000" text-anchor="start">Outflow Rate (</text><text transform="translate(317.40,392.55) rotate(-90)" font-family='"Liberation Sans", sans-serif' font-size="10.00" font-style="italic" stroke="#000" stroke-width="0.18" fill="#000" text-anchor="start">M</text><circle cx="316.20" cy="381.15" r="2.00" fill="none" stroke="#000" stroke-width="0.7"/><circle cx="316.20" cy="381.15" r="0.6" fill="#000"/><text transform="translate(317.40,375.55) rotate(-90) scale(1.260,1)" font-family='"Liberation Sans", sans-serif' font-size="10.00" font-style="italic" stroke="#000" stroke-width="0.18" fill="#000" text-anchor="start">yr</text><text transform="translate(313.10,363.85) rotate(-90) scale(1.200,1)" font-family='"Liberation Sans", sans-serif' font-size="7.00" stroke="#000" stroke-width="0.18" fill="#000" text-anchor="start">−1</text><text transform="translate(317.40,354.05) rotate(-90)" font-family='"Liberation Sans", sans-serif' font-size="10.00" stroke="#000" stroke-width="0.18" fill="#000" text-anchor="start">)</text>
<line x1="203.60" y1="791.55" x2="396.30" y2="676.75" stroke="#1f77b4" stroke-width="0.95"/>
<line x1="203.60" y1="749.55" x2="396.30" y2="641.50" stroke="#ff7f0e" stroke-width="0.95"/>
<line x1="203.60" y1="737.80" x2="396.30" y2="603.80" stroke="#2ca02c" stroke-width="0.95"/>
<line x1="203.60" y1="781.30" x2="396.30" y2="702.55" stroke="#d62728" stroke-width="0.95"/>
<path d="M201.72 800.60v-1.35M209.68 800.60v-1.35M215.86 800.60v-1.35M220.91 800.60v-1.35M225.18 800.60v-1.35M228.87 800.60v-1.35M232.13 800.60v-1.35M254.24 800.60v-1.35M265.47 800.60v-1.35M273.43 800.60v-1.35M279.61 800.60v-1.35M284.66 800.60v-1.35M288.93 800.60v-1.35M292.62 800.60v-1.35M295.88 800.60v-1.35M317.99 800.60v-1.35M329.22 800.60v-1.35M337.18 800.60v-1.35M343.36 800.60v-1.35M348.41 800.60v-1.35M352.68 800.60v-1.35M356.37 800.60v-1.35M359.63 800.60v-1.35M381.74 800.60v-1.35M392.97 800.60v-1.35M400.93 800.60v-1.35M194.15 792.35h1.35M194.15 785.55h1.35M194.15 780.00h1.35M194.15 775.31h1.35M194.15 771.24h1.35M194.15 767.66h1.35M194.15 743.35h1.35M194.15 731.00h1.35M194.15 722.25h1.35M194.15 715.45h1.35M194.15 709.90h1.35M194.15 705.21h1.35M194.15 701.14h1.35M194.15 697.56h1.35M194.15 673.25h1.35M194.15 660.90h1.35M194.15 652.15h1.35M194.15 645.35h1.35M194.15 639.80h1.35M194.15 635.11h1.35M194.15 631.04h1.35M194.15 627.46h1.35M194.15 603.15h1.35" stroke="#555" stroke-width="0.7" fill="none"/>
<path d="M235.05 800.60v-3.30M298.80 800.60v-3.30M362.55 800.60v-3.30M194.15 764.45h3.30M194.15 694.35h3.30M194.15 624.25h3.30" stroke="#000" stroke-width="1.2" fill="none"/>
<rect x="194.15" y="594.90" width="211.85" height="205.70" fill="none" stroke="#444" stroke-width="1.2"/>
<text transform="translate(226.32,811.90) scale(1.100,1)" font-family='"Liberation Sans", sans-serif' font-size="9.80" stroke="#000" stroke-width="0.18" fill="#000" text-anchor="start">10</text><text transform="translate(239.40,807.70) scale(1.100,1)" font-family='"Liberation Sans", sans-serif' font-size="7.00" stroke="#000" stroke-width="0.18" fill="#000" text-anchor="start">2</text>
<text transform="translate(290.07,811.90) scale(1.100,1)" font-family='"Liberation Sans", sans-serif' font-size="9.80" stroke="#000" stroke-width="0.18" fill="#000" text-anchor="start">10</text><text transform="translate(303.15,807.70) scale(1.100,1)" font-family='"Liberation Sans", sans-serif' font-size="7.00" stroke="#000" stroke-width="0.18" fill="#000" text-anchor="start">3</text>
<text transform="translate(353.82,811.90) scale(1.100,1)" font-family='"Liberation Sans", sans-serif' font-size="9.80" stroke="#000" stroke-width="0.18" fill="#000" text-anchor="start">10</text><text transform="translate(366.90,807.70) scale(1.100,1)" font-family='"Liberation Sans", sans-serif' font-size="7.00" stroke="#000" stroke-width="0.18" fill="#000" text-anchor="start">4</text>
<text transform="translate(167.09,628.25) scale(1.100,1)" font-family='"Liberation Sans", sans-serif' font-size="9.80" stroke="#000" stroke-width="0.18" fill="#000" text-anchor="start">10</text><text transform="translate(180.17,624.25) scale(1.200,1)" font-family='"Liberation Sans", sans-serif' font-size="7.00" stroke="#000" stroke-width="0.18" fill="#000" text-anchor="start">−3</text>
<text transform="translate(167.09,698.25) scale(1.100,1)" font-family='"Liberation Sans", sans-serif' font-size="9.80" stroke="#000" stroke-width="0.18" fill="#000" text-anchor="start">10</text><text transform="translate(180.17,694.25) scale(1.200,1)" font-family='"Liberation Sans", sans-serif' font-size="7.00" stroke="#000" stroke-width="0.18" fill="#000" text-anchor="start">−4</text>
<text transform="translate(167.09,768.50) scale(1.100,1)" font-family='"Liberation Sans", sans-serif' font-size="9.80" stroke="#000" stroke-width="0.18" fill="#000" text-anchor="start">10</text><text transform="translate(180.17,764.50) scale(1.200,1)" font-family='"Liberation Sans", sans-serif' font-size="7.00" stroke="#000" stroke-width="0.18" fill="#000" text-anchor="start">−5</text>
<text transform="translate(278.90,823.00) scale(1.080,1)" font-family='"Liberation Sans", sans-serif' font-size="10.00" font-style="italic" stroke="#000" stroke-width="0.18" fill="#000" text-anchor="start">L</text><text transform="translate(285.10,824.30) scale(1.080,1)" font-family='"Liberation Sans", sans-serif' font-size="7.00" stroke="#000" stroke-width="0.18" fill="#000" text-anchor="start">bol</text><text transform="translate(298.70,823.00) scale(1.100,1)" font-family='"Liberation Sans", sans-serif' font-size="10.00" stroke="#000" stroke-width="0.18" fill="#000" text-anchor="start">(</text><text transform="translate(301.70,823.00) scale(1.080,1)" font-family='"Liberation Sans", sans-serif' font-size="10.00" font-style="italic" stroke="#000" stroke-width="0.18" fill="#000" text-anchor="start">L</text><circle cx="312.50" cy="821.40" r="1.95" fill="none" stroke="#000" stroke-width="0.7"/><circle cx="312.50" cy="821.40" r="0.6" fill="#000"/><text transform="translate(316.90,823.00) scale(1.100,1)" font-family='"Liberation Sans", sans-serif' font-size="10.00" stroke="#000" stroke-width="0.18" fill="#000" text-anchor="start">)</text>
<text transform="translate(163.50,755.75) rotate(-90) scale(1.106,1)" font-family='"Liberation Sans", sans-serif' font-size="10.00" stroke="#000" stroke-width="0.18" fill="#000" text-anchor="start">Outflow Rate (</text><text transform="translate(163.50,685.15) rotate(-90)" font-family='"Liberation Sans", sans-serif' font-size="10.00" font-style="italic" stroke="#000" stroke-width="0.18" fill="#000" text-anchor="start">M</text><circle cx="162.30" cy="673.25" r="2.00" fill="none" stroke="#000" stroke-width="0.7"/><circle cx="162.30" cy="673.25" r="0.6" fill="#000"/><text transform="translate(163.50,667.25) rotate(-90) scale(1.260,1)" font-family='"Liberation Sans", sans-serif' font-size="10.00" font-style="italic" stroke="#000" stroke-width="0.18" fill="#000" text-anchor="start">yr</text><text transform="translate(159.20,655.05) rotate(-90) scale(1.200,1)" font-family='"Liberation Sans", sans-serif' font-size="7.00" stroke="#000" stroke-width="0.18" fill="#000" text-anchor="start">−1</text><text transform="translate(163.50,645.15) rotate(-90)" font-family='"Liberation Sans", sans-serif' font-size="10.00" stroke="#000" stroke-width="0.18" fill="#000" text-anchor="start">)</text>
<rect x="199.00" y="599.50" width="63.50" height="60.50" rx="1.5" fill="#fff" fill-opacity="0.8" stroke="#d4d4d4" stroke-width="0.7"/>
<line x1="202.5" y1="607.50" x2="222.5" y2="607.50" stroke="#1f77b4" stroke-width="0.95"/>
<text transform="translate(230.40,607.20) scale(1.140,1)" font-family='"Liberation Sans", sans-serif' font-size="7.00" stroke="#000" stroke-width="0.18" fill="#000" text-anchor="start">12</text>
<text transform="translate(239.47,610.70)" font-family='"Liberation Sans", sans-serif' font-size="10.00" stroke="#000" stroke-width="0.18" fill="#000" text-anchor="start">CO</text>
<line x1="202.5" y1="621.90" x2="222.5" y2="621.90" stroke="#ff7f0e" stroke-width="0.95"/>
<text transform="translate(230.40,621.60) scale(1.140,1)" font-family='"Liberation Sans", sans-serif' font-size="7.00" stroke="#000" stroke-width="0.18" fill="#000" text-anchor="start">13</text>
<text transform="translate(239.47,625.10)" font-family='"Liberation Sans", sans-serif' font-size="10.00" stroke="#000" stroke-width="0.18" fill="#000" text-anchor="start">CO</text>
<line x1="202.5" y1="636.30" x2="222.5" y2="636.30" stroke="#2ca02c" stroke-width="0.95"/>
<text transform="translate(230.40,639.50)" font-family='"Liberation Sans", sans-serif' font-size="10.00" stroke="#000" stroke-width="0.18" fill="#000" text-anchor="start">HCO</text>
<text transform="translate(252.82,636.00) scale(1.300,1)" font-family='"Liberation Sans", sans-serif' font-size="7.00" stroke="#000" stroke-width="0.18" fill="#000" text-anchor="start">+</text>
<line x1="202.5" y1="650.70" x2="222.5" y2="650.70" stroke="#d62728" stroke-width="0.95"/>
<text transform="translate(230.40,653.90)" font-family='"Liberation Sans", sans-serif' font-size="10.00" stroke="#000" stroke-width="0.18" fill="#000" text-anchor="start">CS</text>
<text transform="translate(98.00,274.10) scale(1.080,1)" font-family='"Liberation Serif", serif' font-size="15.00" fill="#1a1a1a" text-anchor="start">(a)</text>
<text transform="translate(123.40,268.75) scale(1.100,1)" font-family='"Liberation Serif", serif' font-size="10.50" fill="#1a1a1a" text-anchor="start">12</text>
<text transform="translate(135.20,274.10) scale(1.150,1)" font-family='"Liberation Serif", serif' font-size="15.00" fill="#1a1a1a" text-anchor="start">CO</text>
<text transform="translate(405.70,274.10) scale(1.100,1)" font-family='"Liberation Serif", serif' font-size="15.00" fill="#1a1a1a" text-anchor="start">(b)</text>
<text transform="translate(432.10,268.75) scale(1.100,1)" font-family='"Liberation Serif", serif' font-size="10.50" fill="#1a1a1a" text-anchor="start">13</text>
<text transform="translate(444.50,274.10) scale(1.150,1)" font-family='"Liberation Serif", serif' font-size="15.00" fill="#1a1a1a" text-anchor="start">CO</text>
<text transform="translate(94.20,568.60) scale(1.060,1)" font-family='"Liberation Serif", serif' font-size="15.00" fill="#1a1a1a" text-anchor="start">(c)</text>
<text transform="translate(118.60,568.60) scale(1.040,1)" font-family='"Liberation Serif", serif' font-size="15.00" fill="#1a1a1a" text-anchor="start">HCO</text>
<path d="M152.3 560.7H160.7M156.5 556.5V564.9" stroke="#1a1a1a" stroke-width="0.75" fill="none"/>
<text transform="translate(416.40,568.60) scale(1.100,1)" font-family='"Liberation Serif", serif' font-size="15.00" fill="#1a1a1a" text-anchor="start">(d)</text>
<text transform="translate(442.30,568.60) scale(1.060,1)" font-family='"Liberation Serif", serif' font-size="15.00" fill="#1a1a1a" text-anchor="start">CS</text>
<text transform="translate(233.50,856.20) scale(1.080,1)" font-family='"Liberation Serif", serif' font-size="15.00" fill="#1a1a1a" text-anchor="start">(e)</text>
<text transform="translate(257.50,856.20) scale(1.120,1)" font-family='"Liberation Serif", serif' font-size="15.00" fill="#1a1a1a" text-anchor="start">Fitting</text>
<text transform="translate(307.70,856.20) scale(1.030,1)" font-family='"Liberation Serif", serif' font-size="15.00" fill="#1a1a1a" text-anchor="start">lines</text>
</svg>
</body></html>
